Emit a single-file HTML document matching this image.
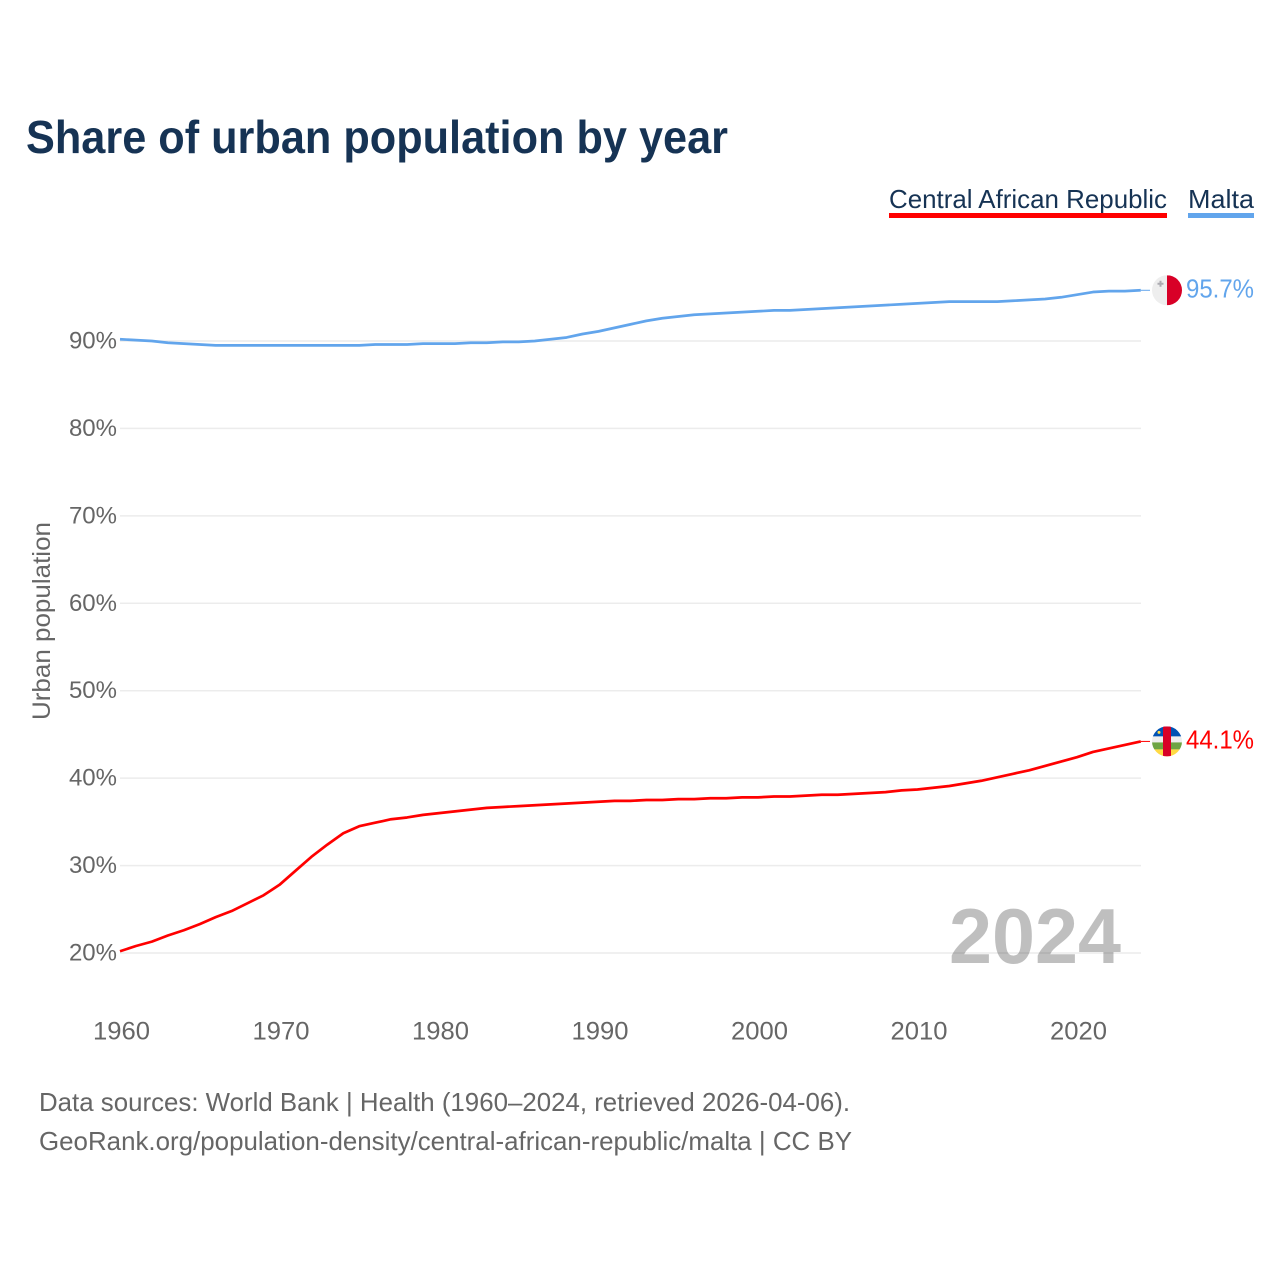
<!DOCTYPE html>
<html lang="en">
<head>
<meta charset="utf-8">
<title>Share of urban population by year</title>
<style>
html,body{margin:0;padding:0;background:#fff;width:1280px;height:1280px;overflow:hidden}
svg{display:block}
text{font-family:"Liberation Sans",sans-serif}
</style>
</head>
<body>
<svg id="chart" xmlns="http://www.w3.org/2000/svg" width="1280" height="1280" viewBox="0 0 1280 1280">
  <rect width="1280" height="1280" fill="#fff"/>
  <text x="26" y="153" font-size="46" font-weight="700" fill="#163354" textLength="702" lengthAdjust="spacingAndGlyphs">Share of urban population by year</text>

  <g>
    <text x="889" y="208" font-size="26" fill="#163354" textLength="278" lengthAdjust="spacingAndGlyphs">Central African Republic</text>
    <rect x="889" y="213" width="278" height="5" fill="#ff0000"/>
  </g>
  <g>
    <text x="1188" y="208" font-size="26" fill="#163354" textLength="66" lengthAdjust="spacingAndGlyphs">Malta</text>
    <rect x="1188" y="213" width="66" height="5" fill="#62a5ec"/>
  </g>

  <text transform="translate(50,720) rotate(-90)" font-size="25" fill="#666" textLength="198" lengthAdjust="spacingAndGlyphs">Urban population</text>

  <g id="grid"></g>
  <g id="yticks"></g>
  <g id="xticks"></g>

  <text x="949" y="963" font-size="78" font-weight="700" fill="#000" fill-opacity="0.25" textLength="172" lengthAdjust="spacingAndGlyphs">2024</text>

  <g id="series"></g>

  <defs>
    <clipPath id="flag-clip-malta"><circle cx="15" cy="15" r="15"/></clipPath>
    <clipPath id="flag-clip-car"><circle cx="15" cy="15" r="15"/></clipPath>
  </defs>

  <g id="flag-malta">
    <g clip-path="url(#flag-clip-malta)">
      <rect width="15" height="30" fill="#eeeeee"/>
      <rect x="15" width="15" height="30" fill="#d80027"/>
      <path d="M7.5 5.5h2v2h2v2h-2v2h-2v-2h-2v-2h2z" fill="#acabb1"/>
    </g>
  </g>
  <g id="flag-car">
    <g clip-path="url(#flag-clip-car)">
      <rect width="30" height="10" fill="#0052b4"/>
      <rect y="10" width="30" height="6" fill="#eeeeee"/>
      <rect y="16" width="30" height="7" fill="#6da544"/>
      <rect y="23" width="30" height="7" fill="#ffda44"/>
      <rect x="11" width="8" height="30" fill="#d80027"/>
      <circle cx="7" cy="6" r="1.5" fill="#ffda44"/>
    </g>
  </g>

  <text x="39" y="1111" font-size="26" fill="#666" textLength="811" lengthAdjust="spacingAndGlyphs">Data sources: World Bank | Health (1960–2024, retrieved 2026-04-06).</text>
  <text x="39" y="1150" font-size="26" fill="#666" textLength="813" lengthAdjust="spacingAndGlyphs">GeoRank.org/population-density/central-african-republic/malta | CC BY</text>
</svg>

<script>
const startYear = 1960;
const yTickValues = [20, 30, 40, 50, 60, 70, 80, 90];
const xTickValues = [1960, 1970, 1980, 1990, 2000, 2010, 2020];
const carValues = [20.2,20.8,21.3,22.0,22.6,23.3,24.1,24.8,25.7,26.6,27.8,29.4,31.0,32.4,33.7,34.5,34.9,35.3,35.5,35.8,36.0,36.2,36.4,36.6,36.7,36.8,36.9,37.0,37.1,37.2,37.3,37.4,37.4,37.5,37.5,37.6,37.6,37.7,37.7,37.8,37.8,37.9,37.9,38.0,38.1,38.1,38.2,38.3,38.4,38.6,38.7,38.9,39.1,39.4,39.7,40.1,40.5,40.9,41.4,41.9,42.4,43.0,43.4,43.8,44.2];
const maltaValues = [90.2,90.1,90.0,89.8,89.7,89.6,89.5,89.5,89.5,89.5,89.5,89.5,89.5,89.5,89.5,89.5,89.6,89.6,89.6,89.7,89.7,89.7,89.8,89.8,89.9,89.9,90.0,90.2,90.4,90.8,91.1,91.5,91.9,92.3,92.6,92.8,93.0,93.1,93.2,93.3,93.4,93.5,93.5,93.6,93.7,93.8,93.9,94.0,94.1,94.2,94.3,94.4,94.5,94.5,94.5,94.5,94.6,94.7,94.8,95.0,95.3,95.6,95.7,95.7,95.8];
const carLabel = "44.1%";
const maltaLabel = "95.7%";

const NS = "http://www.w3.org/2000/svg";
const xScale = function (year) { return 120 + (year - 1960) * 15.95; };
const yScale = function (pct) { return 953 - (pct - 20) * 8.743; };

function svgEl(tag, parent) {
  const el = document.createElementNS(NS, tag);
  parent.appendChild(el);
  return el;
}

const gridGroup = document.getElementById("grid");
const yTickGroup = document.getElementById("yticks");
const xTickGroup = document.getElementById("xticks");
const seriesGroup = document.getElementById("series");

yTickValues.forEach(function (v) {
  const line = svgEl("line", gridGroup);
  
  
  line.setAttribute("x1", 120);
  line.setAttribute("x2", 1141);
  line.setAttribute("y1", yScale(v));
  line.setAttribute("y2", yScale(v));
  line.setAttribute("stroke", "#ececec");
  line.setAttribute("stroke-width", 1.5);

  const label = svgEl("text", yTickGroup);
  
  
  label.setAttribute("x", 117);
  label.setAttribute("y", yScale(v) + 7.5);
  label.setAttribute("text-anchor", "end");
  label.setAttribute("font-size", 24);
  label.setAttribute("fill", "#666");
  label.textContent = v + "%";
});

xTickValues.forEach(function (v) {
  const label = svgEl("text", xTickGroup);
  
  
  label.setAttribute("x", xScale(v) - 27);
  label.setAttribute("y", 1039.5);
  label.setAttribute("font-size", 25);
  label.setAttribute("fill", "#666");
  label.setAttribute("textLength", 57);
  label.setAttribute("lengthAdjust", "spacingAndGlyphs");
  label.textContent = v;
});

function linePoints(values) {
  return values.map(function (v, i) {
    return xScale(startYear + i).toFixed(2) + "," + yScale(v).toFixed(2);
  }).join(" ");
}

function drawSeries(values, color, lineName, connectorName, labelName, labelText, flagId) {
  const lastY = yScale(values[values.length - 1]);
  const lastX = xScale(startYear + values.length - 1);

  const connector = svgEl("line", seriesGroup);
  
  
  connector.setAttribute("x1", lastX);
  connector.setAttribute("x2", 1150);
  connector.setAttribute("y1", lastY);
  connector.setAttribute("y2", lastY);
  connector.setAttribute("stroke", color);
  connector.setAttribute("stroke-width", 1);

  const line = svgEl("polyline", seriesGroup);
  
  
  line.setAttribute("points", linePoints(values));
  line.setAttribute("fill", "none");
  line.setAttribute("stroke", color);
  line.setAttribute("stroke-width", 2.7);
  line.setAttribute("stroke-linejoin", "round");

  const label = svgEl("text", seriesGroup);
  
  
  label.setAttribute("x", 1186);
  label.setAttribute("y", lastY + 7);
  label.setAttribute("font-size", 26);
  label.setAttribute("fill", color);
  label.setAttribute("textLength", 68);
  label.setAttribute("lengthAdjust", "spacingAndGlyphs");
  label.textContent = labelText;

  document.getElementById(flagId).setAttribute("transform", "translate(1152," + (lastY - 15) + ")");
}

drawSeries(carValues, "#ff0000", "line-central-african-republic", "connector-central-african-republic", "value-label-central-african-republic", carLabel, "flag-car");
drawSeries(maltaValues, "#62a5ec", "line-malta", "connector-malta", "value-label-malta", maltaLabel, "flag-malta");
</script>
</body>
</html>
